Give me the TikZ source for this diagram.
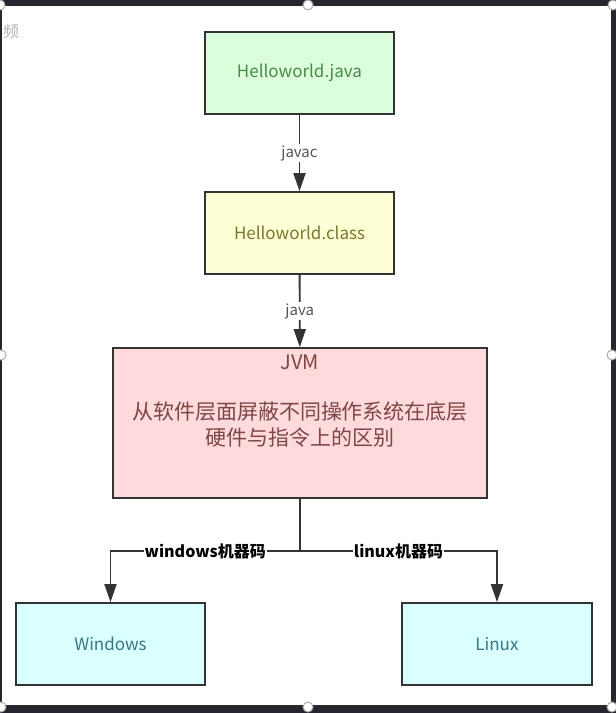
\documentclass[tikz,border=0pt]{standalone}
\usepackage{fontspec}
\setmainfont{Noto Sans CJK SC}
\usetikzlibrary{arrows.meta}

\definecolor{framedark}{HTML}{26262E}
\definecolor{boxline}{HTML}{333333}
\definecolor{javafill}{HTML}{DBFFDB}
\definecolor{javatext}{HTML}{4A8A4A}
\definecolor{classfill}{HTML}{FFFFD6}
\definecolor{classtext}{HTML}{77772F}
\definecolor{jvmfill}{HTML}{FFDADC}
\definecolor{jvmtext}{HTML}{7E4646}
\definecolor{osfill}{HTML}{DAFFFF}
\definecolor{ostext}{HTML}{3A7683}
\definecolor{tagtext}{HTML}{555555}

\begin{document}
\begin{tikzpicture}[x=1pt, y=-1pt,
	box/.style={draw=boxline, line width=1.8pt, minimum width=189pt, minimum height=82pt, inner sep=0pt, font=\fontsize{17}{20}\selectfont},
	flow/.style={draw=boxline, line width=1.8pt, -{Triangle[length=18pt,width=12pt]}},
	tag/.style={fill=white, inner sep=1pt, text=tagtext, font=\fontsize{15}{18}\selectfont},
	codetag/.style={fill=white, inner sep=1pt, text=black, font=\fontsize{16}{18}\bfseries},
	handle/.style={circle, draw=gray!65, fill=white, line width=1pt, minimum size=10pt, inner sep=0pt}]
	
	\useasboundingbox (0,0) rectangle (616,713);
	\fill[framedark] (0,0) rectangle (616,713);
	\fill[white] (2,6) rectangle (611,705);
	\node[anchor=west, inner sep=0pt, text=gray!60, font=\fontsize{16}{16}\selectfont] (tab) at (3,31) {频};
	
	\node[box, fill=javafill, text=javatext] (java) at (299.5, 73) {Helloworld.java};
	\node[box, fill=classfill, text=classtext] (cls) at (299.5, 233) {Helloworld.class};
	\node[box, fill=jvmfill, minimum width=374pt, minimum height=150pt] (jvm) at (300, 423) {};
	\node[text=jvmtext, font=\fontsize{20}{20}\selectfont] (jvmname) at (300, 362) {JVM};
	\node[text=jvmtext, align=center, font=\fontsize{21}{26}\selectfont] (jvmnote) at (300, 425) {从软件层面屏蔽不同操作系统在底层\\硬件与指令上的区别};
	\node[box, fill=osfill, text=ostext] (win) at (110.5, 644) {Windows};
	\node[box, fill=osfill, text=ostext, minimum width=190pt] (linux) at (497, 644) {Linux};
	
	\coordinate (fork) at (300, 551);
	
	\draw[flow] (java) -- node[tag] {javac} (cls);
	\draw[flow] (cls) -- node[tag] {java} (jvm);
	\draw[draw=boxline, line width=1.8pt] (jvm.south) -- (fork);
	\draw[flow] (fork) -| node[codetag, pos=0.25] {windows机器码} (win.north);
	\draw[flow] (fork) -| node[codetag, pos=0.25] {linux机器码} (linux.north);
	
	\foreach \hx/\hy/\hname in {0/5/htl, 308/5/htm, 613/5/htr, 1/355/hml, 612/355/hmr, 1/707/hbl, 308/707/hbm, 612/707/hbr}
		\node[handle] (\hname) at (\hx,\hy) {};
	
\end{tikzpicture}
\end{document}
